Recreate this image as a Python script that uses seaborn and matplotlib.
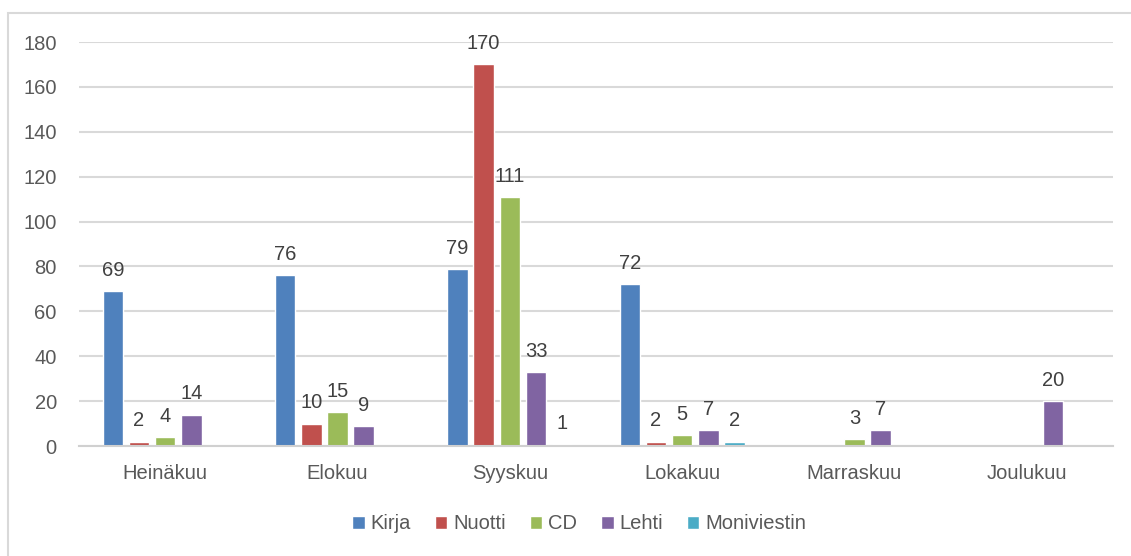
import numpy as np
import pandas as pd
import matplotlib
matplotlib.use("Agg")
import matplotlib.pyplot as plt
import seaborn as sns
from matplotlib.patches import Rectangle

# Data (NaN = no bar)
months = ["Heinäkuu", "Elokuu", "Syyskuu", "Lokakuu", "Marraskuu", "Joulukuu"]
kirja = [69, 76, 79, 72, np.nan, np.nan]
nuotti = [2, 10, 170, 2, np.nan, np.nan]
cd = [4, 15, 111, 5, 3, np.nan]
lehti = [14, 9, 33, 7, 7, 20]
moniviestin = [np.nan, np.nan, 1, 2, np.nan, np.nan]

series = ["Kirja", "Nuotti", "CD", "Lehti", "Moniviestin"]
colors = ["#4F81BD", "#C0504D", "#9BBB59", "#8064A2", "#4BACC6"]

df = pd.DataFrame({"Kuukausi": months, "Kirja": kirja, "Nuotti": nuotti,
                   "CD": cd, "Lehti": lehti, "Moniviestin": moniviestin})
long = df.melt(id_vars="Kuukausi", var_name="Laji", value_name="Määrä")

sns.set_style("white")
plt.rcParams["font.family"] = ["Liberation Sans", "DejaVu Sans"]

fig = plt.figure(figsize=(11.31, 5.56), dpi=100)
ax = fig.add_axes([79 / 1131, 1 - 446 / 556, (1113 - 79) / 1131, (446 - 42) / 556])

sns.barplot(data=long, x="Kuukausi", y="Määrä", hue="Laji", order=months,
            hue_order=series, palette=colors, width=0.76, gap=0.22,
            saturation=1, ax=ax)

# value labels above each bar
for cont in ax.containers:
    ax.bar_label(cont, fmt="%g", padding=8, fontsize=14.5, color="#404040")

ax.set_ylim(0, 180)
ax.set_yticks(range(0, 181, 20))
ax.yaxis.grid(True, color="#D9D9D9", linewidth=1.5)
ax.set_axisbelow(True)
for s in ["top", "right", "left"]:
    ax.spines[s].set_visible(False)
ax.spines["bottom"].set_color("#D0D0D0")
ax.spines["bottom"].set_linewidth(1.5)
ax.tick_params(axis="both", length=0, labelsize=14.5, labelcolor="#595959")
ax.tick_params(axis="x", pad=13)
ax.tick_params(axis="y", pad=16)
ax.set_xlabel("")
ax.set_ylabel("")

ax.legend(loc="center", bbox_to_anchor=(0.4836, -0.193), ncol=5, frameon=False,
          fontsize=14.5, labelcolor="#595959", handlelength=0.62, handleheight=0.62,
          handletextpad=0.28, columnspacing=1.2)

# light frame around the chart area
fig.patches.append(Rectangle((8 / 1131, -0.05), 1.1, 1 - 13 / 556 + 0.05,
                             transform=fig.transFigure, fill=False,
                             edgecolor="#D9D9D9", linewidth=1.5))

fig.savefig("out.png", dpi=100)
